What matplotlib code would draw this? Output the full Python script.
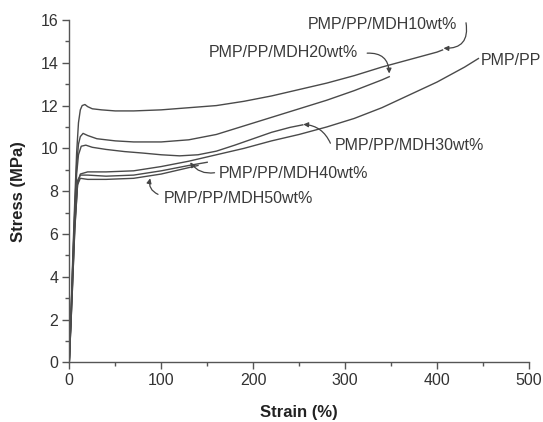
import matplotlib
matplotlib.use("Agg")
import matplotlib.pyplot as plt
from matplotlib.ticker import MultipleLocator

plt.rcParams['font.family'] = ['Liberation Sans', 'DejaVu Sans']

# ---- data ----
pp_strain = [0, 3, 6, 9, 12, 20, 40, 70, 100, 130, 160, 190, 220, 250, 280, 310, 340, 370, 400, 430, 445]
pp_stress = [0, 3.0, 6.2, 8.3, 8.8, 8.9, 8.9, 8.95, 9.15, 9.4, 9.7, 10.0, 10.35, 10.65, 11.0, 11.4, 11.9, 12.5, 13.1, 13.8, 14.2]

m10_strain = [0, 2, 4, 6, 8, 10, 12, 14, 17, 20, 25, 35, 50, 70, 100, 130, 160, 190, 220, 250, 280, 310, 340, 370, 400, 406]
m10_stress = [0, 2.5, 5.2, 7.6, 9.8, 11.2, 11.8, 12.0, 12.05, 11.95, 11.85, 11.8, 11.75, 11.75, 11.8, 11.9, 12.0, 12.2, 12.45, 12.75, 13.05, 13.4, 13.8, 14.15, 14.5, 14.6]

m20_strain = [0, 2, 4, 6, 8, 10, 12, 15, 20, 30, 50, 70, 100, 130, 160, 190, 220, 250, 280, 310, 340, 348]
m20_stress = [0, 2.4, 4.9, 7.2, 9.2, 10.2, 10.55, 10.7, 10.6, 10.45, 10.35, 10.3, 10.3, 10.4, 10.65, 11.05, 11.45, 11.85, 12.25, 12.7, 13.2, 13.35]

m30_strain = [0, 2, 4, 6, 8, 10, 13, 18, 25, 40, 60, 80, 100, 120, 140, 160, 180, 200, 220, 240, 254]
m30_stress = [0, 2.4, 4.8, 7.0, 8.8, 9.7, 10.1, 10.15, 10.05, 9.95, 9.85, 9.78, 9.7, 9.65, 9.7, 9.87, 10.15, 10.45, 10.75, 10.98, 11.1]

m40_strain = [0, 3, 6, 9, 12, 20, 40, 70, 100, 130, 150]
m40_stress = [0, 3.2, 6.5, 8.5, 8.75, 8.75, 8.7, 8.75, 8.95, 9.2, 9.35]

m50_strain = [0, 3, 6, 9, 12, 20, 40, 70, 100, 120, 140]
m50_stress = [0, 3.0, 6.3, 8.3, 8.6, 8.55, 8.55, 8.6, 8.8, 9.0, 9.2]

labels = ["PMP/PP", "PMP/PP/MDH10wt%", "PMP/PP/MDH20wt%",
          "PMP/PP/MDH30wt%", "PMP/PP/MDH40wt%", "PMP/PP/MDH50wt%"]

fig = plt.figure(figsize=(5.43, 4.22), dpi=100)
ax = fig.add_axes([0.1276, 0.1415, 0.8466, 0.8111])

lc = '#4a4a4a'
for xs, ys in [(pp_strain, pp_stress), (m10_strain, m10_stress), (m20_strain, m20_stress),
               (m30_strain, m30_stress), (m40_strain, m40_stress), (m50_strain, m50_stress)]:
    ax.plot(xs, ys, color=lc, lw=1.0)

ax.set_xlim(0, 500)
ax.set_ylim(0, 16)
ax.xaxis.set_major_locator(MultipleLocator(100))
ax.xaxis.set_minor_locator(MultipleLocator(50))
ax.yaxis.set_major_locator(MultipleLocator(2))
ax.yaxis.set_minor_locator(MultipleLocator(1))
for s in ['top', 'right']:
    ax.spines[s].set_visible(False)
for s in ['left', 'bottom']:
    ax.spines[s].set_color('#555555')
    ax.spines[s].set_linewidth(1.0)
ax.tick_params(which='major', direction='out', length=5, width=1, color='#555555',
               labelsize=11.5, labelcolor='#333333', pad=3)
ax.tick_params(which='minor', direction='out', length=3, width=1, color='#555555')

ax.set_xlabel("Strain (%)", fontsize=12, fontweight='bold', color='#222222', labelpad=12)
ax.set_ylabel("Stress (MPa)", fontsize=12, fontweight='bold', color='#222222', labelpad=10)

tc = '#3a3a3a'
fs = 11.5
arrow_kw = dict(arrowstyle='-|>', color='#444444', lw=0.9, mutation_scale=7, shrinkA=0, shrinkB=0)

ax.text(480.6, 14.09, labels[0], fontsize=fs, color=tc, ha='center', va='center')
ax.text(341, 15.81, labels[1], fontsize=fs, color=tc, ha='center', va='center')
ax.annotate("", xy=(407, 14.68), xytext=(431.5, 15.87),
            arrowprops=dict(connectionstyle='arc3,rad=-0.6', **arrow_kw))
ax.text(232.6, 14.5, labels[2], fontsize=fs, color=tc, ha='center', va='center')
ax.annotate("", xy=(348, 13.5), xytext=(324, 14.45),
            arrowprops=dict(connectionstyle='arc3,rad=-0.5', **arrow_kw))
ax.text(369.6, 10.12, labels[3], fontsize=fs, color=tc, ha='center', va='center')
ax.annotate("", xy=(254.5, 11.12), xytext=(284, 10.24),
            arrowprops=dict(connectionstyle='arc3,rad=0.3', **arrow_kw))
ax.text(244, 8.82, labels[4], fontsize=fs, color=tc, ha='center', va='center')
ax.annotate("", xy=(131.5, 9.35), xytext=(158, 8.86),
            arrowprops=dict(connectionstyle='arc3,rad=-0.3', **arrow_kw))
ax.text(184, 7.67, labels[5], fontsize=fs, color=tc, ha='center', va='center')
ax.annotate("", xy=(88, 8.6), xytext=(96.5, 7.85),
            arrowprops=dict(connectionstyle='arc3,rad=-0.4', **arrow_kw))

fig.savefig("out.png", dpi=100)
